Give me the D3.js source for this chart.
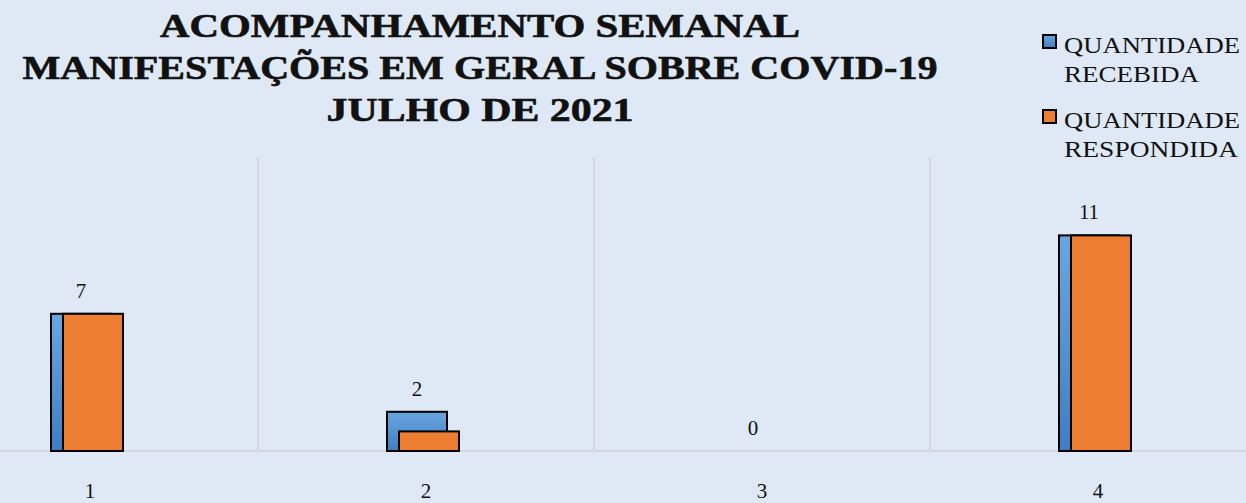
<!DOCTYPE html>
<html>
<head>
<meta charset="utf-8">
<script src="https://cdn.jsdelivr.net/npm/d3@7"></script>
<style>
  body { margin: 0; background: #dee9f5; }
  svg { display: block; }
</style>
</head>
<body>
<div id="chart"></div>
<script>
const weeks = ["1", "2", "3", "4"];
const recebida = [7, 2, 0, 11];
const respondida = [7, 1, 0, 11];
const titleLines = ["ACOMPANHAMENTO SEMANAL", "MANIFESTAÇÕES EM GERAL SOBRE COVID-19", "JULHO DE 2021"];
const legendNames = [["QUANTIDADE", "RECEBIDA"], ["QUANTIDADE", "RESPONDIDA"]];

const W = 1246, H = 503;
const serif = "Georgia, 'Liberation Serif', 'DejaVu Serif', serif";

const svg = d3.select("#chart").append("svg")
  .attr("width", W).attr("height", H);

svg.append("rect").attr("width", W).attr("height", H).attr("fill", "#dee9f5");

// gradient for the blue bars
const defs = svg.append("defs");
const grad = defs.append("linearGradient").attr("id", "blueGrad")
  .attr("x1", 0).attr("y1", 0).attr("x2", 0).attr("y2", 1);
grad.append("stop").attr("offset", "0%").attr("stop-color", "#6aa6de");
grad.append("stop").attr("offset", "100%").attr("stop-color", "#3f7ec2");

// the plot runs past both edges of the picture
const x = d3.scaleBand().domain(weeks).range([-78, 1266]).padding(0);
const y = d3.scaleLinear().domain([0, 15]).range([451, 157]);

// category separators
svg.append("g").selectAll("line")
  .data(weeks.slice(1))
  .enter().append("line")
  .attr("x1", d => x(d)).attr("x2", d => x(d))
  .attr("y1", y(15)).attr("y2", y(0))
  .attr("stroke", "#d3d8de").attr("stroke-width", 2);

// baseline
svg.append("line")
  .attr("x1", 0).attr("x2", W)
  .attr("y1", y(0)).attr("y2", y(0))
  .attr("stroke", "#d3d8de").attr("stroke-width", 2);

const barW = 60, shift = 12;
const cx = d => x(d) + x.bandwidth() / 2 - 2;

// received bars
svg.append("g").selectAll("rect")
  .data(weeks.map((w, i) => ({ w, v: recebida[i] })).filter(d => d.v > 0))
  .enter().append("rect")
  .attr("x", d => cx(d.w) - 37)
  .attr("y", d => y(d.v))
  .attr("width", barW)
  .attr("height", d => y(0) - y(d.v))
  .attr("fill", "url(#blueGrad)")
  .attr("stroke", "#000").attr("stroke-width", 2);

// answered bars
svg.append("g").selectAll("rect")
  .data(weeks.map((w, i) => ({ w, v: respondida[i] })).filter(d => d.v > 0))
  .enter().append("rect")
  .attr("x", d => cx(d.w) - 37 + shift)
  .attr("y", d => y(d.v))
  .attr("width", barW)
  .attr("height", d => y(0) - y(d.v))
  .attr("fill", "#ed7d31")
  .attr("stroke", "#000").attr("stroke-width", 2);

// value labels above the received bars
svg.append("g").selectAll("text")
  .data(weeks.map((w, i) => ({ w, v: recebida[i] })))
  .enter().append("text")
  .attr("x", d => cx(d.w) - 37 + barW / 2)
  .attr("y", d => y(d.v) - 16)
  .attr("text-anchor", "middle")
  .attr("font-family", serif).attr("font-size", 21)
  .attr("fill", "#111")
  .text(d => d.v);

// category labels
svg.append("g").selectAll("text")
  .data(weeks)
  .enter().append("text")
  .attr("x", d => x(d) + x.bandwidth() / 2)
  .attr("y", 498)
  .attr("text-anchor", "middle")
  .attr("font-family", serif).attr("font-size", 21)
  .attr("fill", "#111")
  .text(d => d);

// title, stretched to the width the original font takes
const titleWidths = [640, 915, 307];
svg.append("g").selectAll("text")
  .data(titleLines)
  .enter().append("text")
  .attr("x", 480)
  .attr("y", (d, i) => 37 + i * 42)
  .attr("text-anchor", "middle")
  .attr("font-family", serif).attr("font-size", 33).attr("font-weight", "bold")
  .attr("textLength", (d, i) => titleWidths[i])
  .attr("lengthAdjust", "spacingAndGlyphs")
  .attr("fill", "#111")
  .attr("stroke", "#111").attr("stroke-width", 0.6)
  .text(d => d);

// legend
const legendColors = ["url(#blueGrad)", "#ed7d31"];
const legendWidths = { QUANTIDADE: 176, RECEBIDA: 135, RESPONDIDA: 174 };
const lg = svg.append("g").selectAll("g")
  .data(legendNames)
  .enter().append("g")
  .attr("transform", (d, i) => `translate(1043, ${35 + i * 75})`);
lg.append("rect")
  .attr("width", 13).attr("height", 13)
  .attr("fill", (d, i) => legendColors[i])
  .attr("stroke", "#000").attr("stroke-width", 2);
lg.selectAll("text")
  .data(d => d)
  .enter().append("text")
  .attr("x", 21)
  .attr("y", (d, i) => 18 + i * 29)
  .attr("font-family", serif).attr("font-size", 23)
  .attr("textLength", d => legendWidths[d])
  .attr("lengthAdjust", "spacingAndGlyphs")
  .attr("fill", "#111")
  .text(d => d);
</script>
</body>
</html>
